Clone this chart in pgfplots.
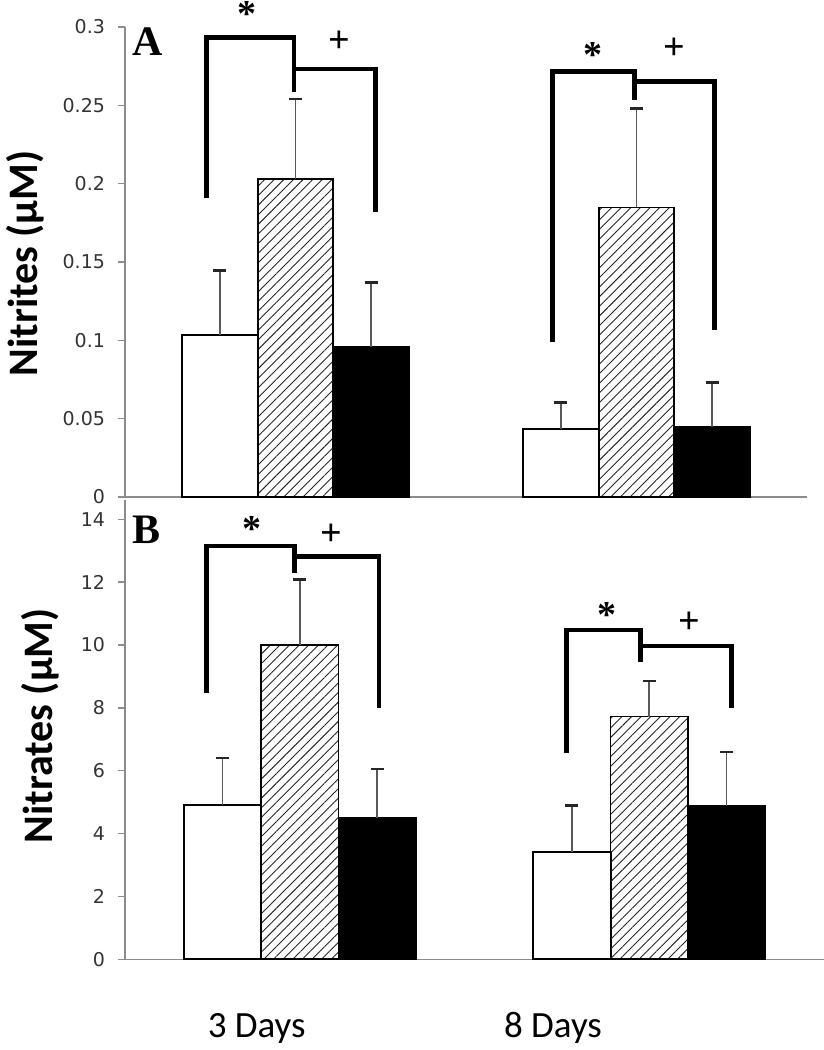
\documentclass[border=0pt]{standalone}
\usepackage{fontspec}
\setmainfont{Carlito}
\newfontfamily\dejavu{DejaVu Sans}
\newfontfamily\libserif{Liberation Serif}
\usepackage{pgfplots}
\pgfplotsset{compat=1.18}
\usetikzlibrary{patterns.meta}

\tikzset{
  bracket/.style={line width=2.3pt, line cap=butt, line join=miter},
  sym/.style={font=\libserif\bfseries\fontsize{19}{21}\selectfont},
}
\pgfplotsset{
  panel/.style={
    scale only axis,
    axis lines*=left,
    axis line style={black!45, line width=0.7pt},
    xmin=0, xmax=2,
    xtick=\empty,
    tick align=outside,
    major tick length=3.5pt,
    ytick style={black!45, line width=0.7pt},
    yticklabel style={font=\dejavu\fontsize{9.5}{11}\selectfont, text=black!80, xshift=-3pt},
    ybar, bar width=0.2215,
    clip=false,
  },
  whitebar/.style={fill=white, draw=black, line width=1pt, bar shift=-0.2215},
  hatchbar/.style={pattern={Lines[angle=45,distance=3.4pt,line width=0.45pt]}, pattern color=black!85, draw=black, line width=0.8pt, bar shift=0},
  blackbar/.style={fill=black, draw=black, line width=0.8pt, bar shift=0.2215},
  errs/.style={
    error bars/.cd, y dir=plus, y explicit,
    error bar style={line width=0.8pt, black!65, solid},
    error mark options={rotate=90, mark size=3.25pt, line width=1.3pt, black!85, solid},
  },
}

\begin{document}
\begin{tikzpicture}
\useasboundingbox (0,0) rectangle (412pt,525pt);

% ---------------- Panel A : Nitrites ----------------
\begin{axis}[panel,
  at={(62.5pt,276.5pt)}, anchor=south west,
  width=341pt, height=235pt,
  ymin=0, ymax=0.3,
  ytick={0,0.05,0.1,0.15,0.2,0.25,0.3},
  yticklabels={0,0.05,0.1,0.15,0.2,0.25,0.3},
]
\addplot[whitebar, errs] coordinates {(0.5,0.1034) +- (0,0.041) (1.5,0.0434) +- (0,0.017)};
\addplot[hatchbar, errs] coordinates {(0.5,0.2030) +- (0,0.051) (1.5,0.1849) +- (0,0.063)};
\addplot[blackbar, errs] coordinates {(0.5,0.0959) +- (0,0.041) (1.5,0.0449) +- (0,0.028)};

\draw[bracket] (axis cs:0.2396,0.1908) -- (axis cs:0.2396,0.2932) -- (axis cs:0.4956,0.2932) -- (axis cs:0.4956,0.2587);
\draw[bracket] (axis cs:0.4956,0.2732) -- (axis cs:0.7352,0.2732) -- (axis cs:0.7352,0.1817);
\draw[bracket] (axis cs:1.2542,0.0991) -- (axis cs:1.2542,0.2715) -- (axis cs:1.4936,0.2715) -- (axis cs:1.4936,0.2534);
\draw[bracket] (axis cs:1.4936,0.2651) -- (axis cs:1.7282,0.2651) -- (axis cs:1.7282,0.1066);

\node[sym] at (axis cs:0.3578,0.3080) {*};
\node[sym] at (axis cs:0.6276,0.2904) {+};
\node[sym] at (axis cs:1.3733,0.2820) {*};
\node[sym] at (axis cs:1.6109,0.2858) {+};
\node[font=\libserif\bfseries\fontsize{21}{24}\selectfont] at (axis cs:0.067,0.2904) {A};
\end{axis}

% ---------------- Panel B : Nitrates ----------------
\begin{axis}[panel,
  at={(62.5pt,45.35pt)}, anchor=south west,
  width=349.5pt, height=229.45pt,
  ymin=0, ymax=14.6,
  ytick={0,2,4,6,8,10,12,14},
  yticklabels={0,2,4,6,8,10,12,14},
]
\addplot[whitebar, errs] coordinates {(0.5,4.91) +- (0,1.49) (1.5,3.40) +- (0,1.49)};
\addplot[hatchbar, errs] coordinates {(0.5,10.00) +- (0,2.09) (1.5,7.72) +- (0,1.14)};
\addplot[blackbar, errs] coordinates {(0.5,4.51) +- (0,1.54) (1.5,4.89) +- (0,1.70)};

\draw[bracket] (axis cs:0.2338,8.46) -- (axis cs:0.2338,13.15) -- (axis cs:0.4844,13.15) -- (axis cs:0.4844,12.28);
\draw[bracket] (axis cs:0.4844,12.81) -- (axis cs:0.7268,12.81) -- (axis cs:0.7268,7.99);
\draw[bracket] (axis cs:1.2638,6.55) -- (axis cs:1.2638,10.48) -- (axis cs:1.4755,10.48) -- (axis cs:1.4755,9.47);
\draw[bracket] (axis cs:1.4755,9.97) -- (axis cs:1.7359,9.97) -- (axis cs:1.7359,7.99);

\node[sym] at (axis cs:0.3625,13.70) {*};
\node[sym] at (axis cs:0.5914,13.50) {+};
\node[sym] at (axis cs:1.3780,10.95) {*};
\node[sym] at (axis cs:1.6146,10.71) {+};
\node[font=\libserif\bfseries\fontsize{21}{24}\selectfont] at (axis cs:0.062,13.66) {B};
\end{axis}

% category labels
\node[font=\fontsize{18.5}{20}\selectfont, anchor=base] at (128.35pt,6.3pt) {3 Days};
\node[font=\fontsize{18.5}{20}\selectfont, anchor=base] at (276.5pt,6.3pt) {8 Days};

% y-axis titles
\node[rotate=90, font=\bfseries\fontsize{21}{24}\selectfont] at (12.5pt,393.25pt) {Nitrites (µM)};
\node[rotate=90, font=\bfseries\fontsize{21}{24}\selectfont] at (20pt,162pt) {Nitrates (µM)};
\end{tikzpicture}
\end{document}
